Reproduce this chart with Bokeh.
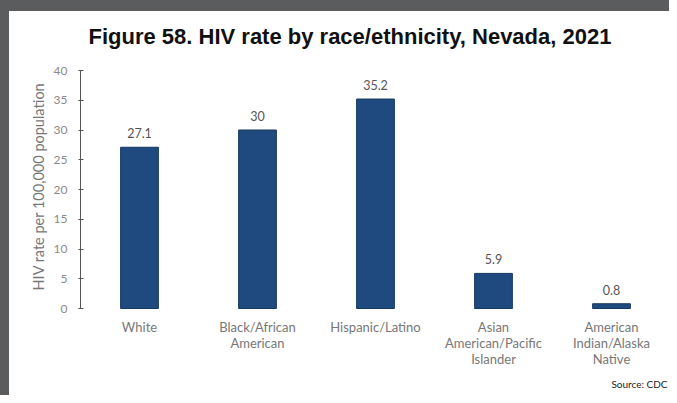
from bokeh.plotting import figure
from bokeh.models import Range1d, Title, ColumnDataSource, FactorRange, LabelSet, Label
from bokeh.core.properties import value
from bokeh.embed import file_html
from bokeh.resources import INLINE

categories = ["White", "Black/African American", "Hispanic/Latino",
              "Asian American/Pacific Islander", "American Indian/Alaska Native"]
label_line1 = ["White", "Black/African", "Hispanic/Latino", "Asian", "American"]
label_line2 = ["", "American", "", "American/Pacific", "Indian/Alaska"]
label_line3 = ["", "", "", "Islander", "Native"]
rates = [27.1, 30.0, 35.2, 5.9, 0.8]
rate_labels = ["27.1", "30", "35.2", "5.9", "0.8"]
baseline = [0, 0, 0, 0, 0]
y_ticks = [0, 5, 10, 15, 20, 25, 30, 35, 40]
title_text = "Figure 58. HIV rate by race/ethnicity, Nevada, 2021"
y_title = "HIV rate per 100,000 population"
source_text = "Source: CDC"

# layout: value axis 0..40 spans 238 px; 59 px kept above (under an 11 px
# border strip), 98 px below (part of it hidden by the frame edge)
axis_px = 238.0
above_px = 59.0
below_px = 98.0
span = y_ticks[-1] - y_ticks[0]
y_min = y_ticks[0] - below_px * span / axis_px
y_max = y_ticks[-1] + above_px * span / axis_px

src = ColumnDataSource(dict(cat=categories, rate=rates, lab=rate_labels,
                            l1=label_line1, l2=label_line2, l3=label_line3,
                            base=baseline))

p = figure(width=669, height=395, output_backend="svg", toolbar_location=None,
           x_range=FactorRange(*categories), y_range=Range1d(y_min, y_max),
           x_axis_location=None,
           min_border_left=71, min_border_right=8, min_border_top=0,
           min_border_bottom=0)
p.styles = {"border-top": "11px solid #5b5c5e", "border-left": "9px solid #5b5c5e"}
p.background_fill_color = "white"
p.border_fill_color = "white"
p.outline_line_color = None
p.grid.grid_line_color = None

p.add_layout(Label(x=0, y=y_ticks[-1], x_offset=8, y_offset=34, text=title_text,
                   text_font="Liberation Sans", text_font_style="bold",
                   text_font_size="22px", text_color="#111111",
                   text_baseline="alphabetic", text_align="left"))

p.vbar(x="cat", top="rate", bottom="base", width=0.32, source=src,
       fill_color="#1e4a7f", line_color="#16395f", line_width=1)
p.text(x="cat", y="rate", text="lab", source=src, y_offset=-9,
       text_align="center", text_baseline="bottom",
       text_font=value("Lato"), text_font_size="12.5px", text_color="#555555")

# y axis
yax = p.yaxis[0]
yax.ticker = y_ticks
yax.bounds = (y_ticks[0], y_ticks[-1])
yax.minor_tick_line_color = None
yax.axis_line_color = "#555555"
yax.major_tick_line_color = "#555555"
yax.major_tick_in = 3
yax.major_tick_out = 2
yax.major_label_text_font = "Lato"
yax.major_label_text_font_size = "12px"
yax.major_label_text_color = "#8a8a8a"
yax.major_label_standoff = 11

# y axis title, placed along the 0..40 part of the axis
p.add_layout(Title(text=y_title, align="left", offset=below_px + 18,
                   text_font="Lato", text_font_style="normal",
                   text_font_size="14.5px", text_color="#777777",
                   standoff=8), "left")

# category labels under the bars, one row per text line
for col, dy in (("l1", -10), ("l2", -26), ("l3", -42)):
    p.add_layout(LabelSet(x="cat", y="base", text=col, source=src,
                          y_offset=dy, text_align="center", text_baseline="top",
                          text_font=value("Lato"), text_font_size="13px",
                          text_color="#777777"))

p.add_layout(Label(x=len(categories), y=y_ticks[0], x_offset=-3, y_offset=-75,
                   text=source_text, text_align="right", text_baseline="middle",
                   text_font="Lato", text_font_size="10px",
                   text_color="#222222"))

open("out.html", "w").write(file_html(p, INLINE))
